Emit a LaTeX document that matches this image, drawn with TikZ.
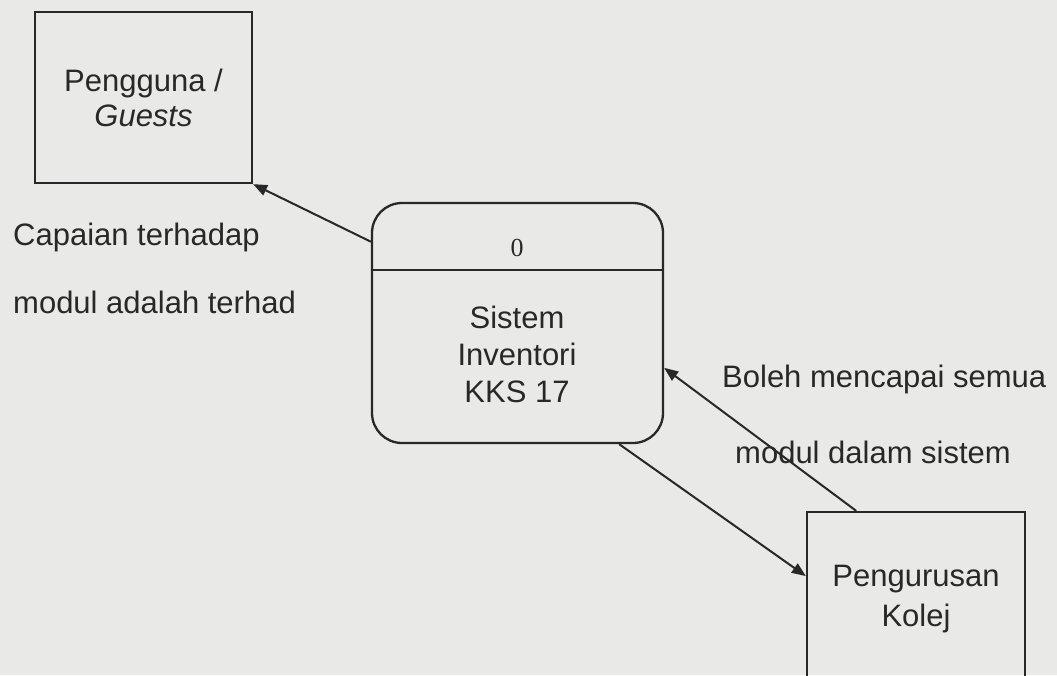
\documentclass[tikz,border=0pt]{standalone}
\usepackage{fontspec}
\setmainfont{Liberation Sans}
\newfontfamily\serifnum{Liberation Serif}
\usetikzlibrary{arrows.meta,calc}
\definecolor{bg}{RGB}{233,233,231}
\definecolor{ink}{RGB}{40,40,40}
\tikzset{
  ent/.style={draw=ink, line width=2.3pt, inner sep=0pt, align=center, text=ink,
    font=\fontsize{31}{35}\selectfont},
  proc/.style={draw=ink, line width=2.3pt, rounded corners=30pt, inner sep=0pt,
    minimum width=291pt, minimum height=240pt},
  lbl/.style={anchor=base west, inner sep=0pt, text=ink, font=\fontsize{31}{37}\selectfont},
  flow/.style={draw=ink, line width=2pt, -{Triangle[length=14pt,width=11pt]}}
}
\begin{document}
\begin{tikzpicture}[x=1pt,y=-1pt]
\fill[bg] (0,0) rectangle (1057,675);
\useasboundingbox (0,0) rectangle (1057,675);
% external entities
\node[ent, minimum width=217pt, minimum height=171pt] (guests) at (143.5,97.5)
  {Pengguna /\\\textit{Guests}};
\node[ent, minimum width=218pt, minimum height=175pt, font=\fontsize{31}{40}\selectfont] (kolej) at (916,599.5)
  {Pengurusan\\Kolej};
% process
\node[proc] (proc) at (517.5,323) {};
\draw[ink, line width=2.3pt] ($(proc.north west)+(0,68)$) -- ($(proc.north east)+(0,68)$);
\node[anchor=base, inner sep=0pt, text=ink, font=\serifnum\fontsize{26}{30}\selectfont] (pid) at (517,256) {0};
\node[inner sep=0pt, align=center, text=ink, font=\fontsize{31}{37}\selectfont] (pname) at (517,354)
  {Sistem\\Inventori\\KKS 17};
% labels
\node[lbl] (l1) at (13,245) {Capaian terhadap};
\node[lbl] (l2) at (13,313) {modul adalah terhad};
\node[lbl] (l3) at (722,387) {Boleh mencapai semua};
\node[lbl] (l4) at (735,463) {modul dalam sistem};
% flows
\draw[flow] (proc.151.8) -- (guests.south east);
\draw[flow] (kolej.124.4) -- (proc.-17.9);
\draw[flow] (proc.-50.9) -- (kolej.168.6);
\end{tikzpicture}
\end{document}
